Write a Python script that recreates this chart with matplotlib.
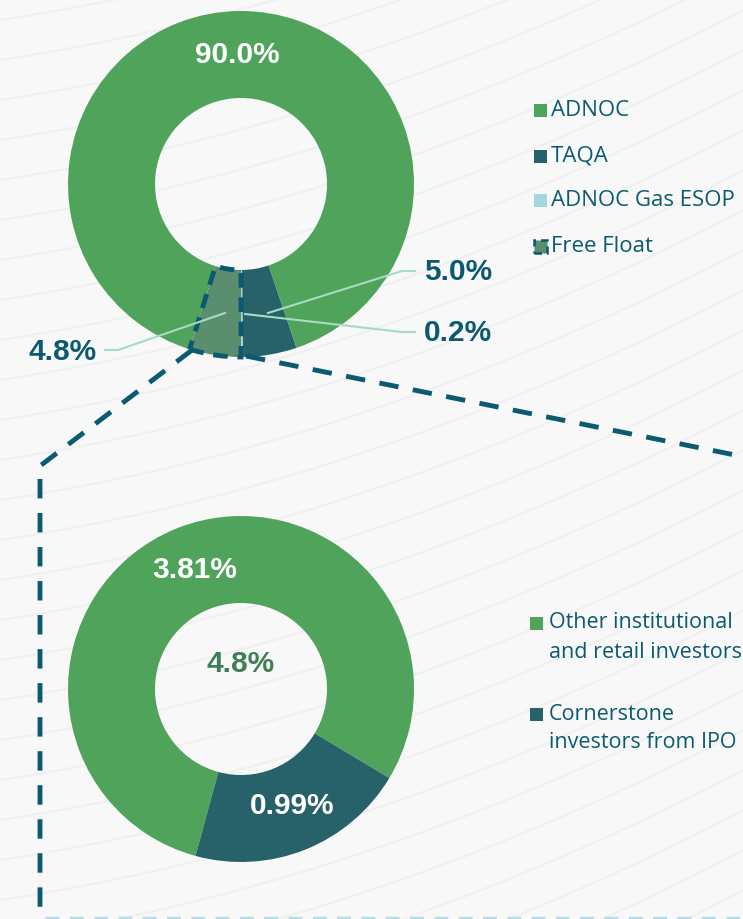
import matplotlib
matplotlib.use("Agg")
import matplotlib.pyplot as plt
import numpy as np

# ---- data ----
top_labels = ["ADNOC Gas ESOP", "TAQA", "ADNOC", "Free Float"]
top_values = [0.2, 5.0, 90.0, 4.8]
top_texts = ["0.2%", "5.0%", "90.0%", "4.8%"]

bot_labels = [["Other institutional", "and retail investors"], ["Cornerstone", "investors from IPO"]]
bot_values = [3.81, 0.99]
bot_texts = ["3.81%", "0.99%"]
bot_total = "4.8%"

legend_top = ["ADNOC", "TAQA", "ADNOC Gas ESOP", "Free Float"]

GREEN = "#50a35a"
TEAL = "#27616a"
ESOP = "#a2d8df"
FREE = "#5b8e6e"
TXT = "#0d5a70"
DASH = "#0b5a70"
LEAD = "#a8dcc2"
BG = "#f8f8f8"

W, H = 743, 919
fig = plt.figure(figsize=(W / 100, H / 100), dpi=100, facecolor=BG)
ax = fig.add_axes([0, 0, 1, 1])
ax.set_facecolor(BG)

def Y(y):
    return H - y

FONT = "Liberation Sans"
LFONT = "Open Sans"
PFS = 21.5

# faint background curves (decorative)
xs = np.linspace(0, W, 200)
for k in range(-6, 26):
    base = k * 40
    ys = base + 0.35 * (W - xs) - 0.00025 * (xs - 400) ** 2
    ax.plot(xs, [Y(v) for v in ys], color="#f0f0f0", lw=1.6, zorder=0)

R = 173
RI = 86
ctop = (241, Y(184))
cbot = (241, Y(689))

# ---- top donut ----
top_colors = [ESOP, TEAL, GREEN, FREE]
wedges, _ = ax.pie(top_values, colors=top_colors, startangle=270, counterclock=True,
                   radius=R, center=ctop, wedgeprops=dict(width=R - RI, linewidth=0),
                   frame=True)
ff = wedges[3]
ff.set_edgecolor(DASH)
ff.set_linewidth(3.5)
ff.set_linestyle((0, (3, 2)))
ff.set_zorder(3)

ax.text(237, Y(55), top_texts[2], color="white", fontsize=PFS, fontweight="bold",
        ha="center", va="center", family=FONT)

# leader lines
ax.plot([268, 402, 415], [Y(313), Y(271), Y(271)], color=LEAD, lw=1.5, zorder=4)
ax.plot([245, 402, 415], [Y(314), Y(332), Y(332)], color=LEAD, lw=1.5, zorder=4)
ax.plot([225, 118, 105], [Y(313), Y(350), Y(350)], color=LEAD, lw=1.5, zorder=4)
ax.text(424, Y(272), top_texts[1], color=TXT, fontsize=PFS, fontweight="bold",
        ha="left", va="center", family=FONT)
ax.text(424, Y(333), top_texts[0], color=TXT, fontsize=PFS, fontweight="bold",
        ha="left", va="center", family=FONT)
ax.text(97, Y(352), top_texts[3], color=TXT, fontsize=PFS, fontweight="bold",
        ha="right", va="center", family=FONT)

# top legend
leg_y = [110, 156, 200, 246]
leg_c = [GREEN, TEAL, ESOP, FREE]
for lab, yy, cc in zip(legend_top, leg_y, leg_c):
    if lab == "Free Float":
        ax.add_patch(plt.Rectangle((534, Y(yy) - 6.5), 13, 13, facecolor=cc,
                                   edgecolor=DASH, lw=1.8, linestyle=(0, (3, 2)), zorder=5))
    else:
        ax.add_patch(plt.Rectangle((534, Y(yy) - 6.5), 13, 13, facecolor=cc,
                                   edgecolor="none", zorder=5))
    ax.text(551, Y(yy), lab, color=TXT, fontsize=16, ha="left", va="center",
            family=LFONT)

# dashed connectors
dash_kw = dict(color=DASH, lw=3.5, linestyle=(0, (4, 3)), zorder=2)
ax.plot([192, 40, 40], [Y(350), Y(466), Y(919)], **dash_kw)
ax.plot([246, 740], [Y(356), Y(456)], **dash_kw)
ax.plot([45, 743], [Y(918), Y(918)], color="#b9dde6", lw=2.5, linestyle=(0, (4, 3)), zorder=2)

# ---- bottom donut ----
w2, _ = ax.pie(bot_values, colors=[GREEN, TEAL], startangle=-31, counterclock=True,
               radius=R, center=cbot, wedgeprops=dict(width=R - RI, linewidth=0),
               frame=True)

ax.text(195, Y(570), bot_texts[0], color="white", fontsize=PFS, fontweight="bold",
        ha="center", va="center", family=FONT)
ax.text(292, Y(806), bot_texts[1], color="white", fontsize=PFS, fontweight="bold",
        ha="center", va="center", family=FONT)
ax.text(241, Y(664), bot_total, color="#3f7f55", fontsize=PFS, fontweight="bold",
        ha="center", va="center", family=FONT)

# bottom legend
bl_y = [623, 714]
for lines, yy, cc in zip(bot_labels, bl_y, [GREEN, TEAL]):
    ax.add_patch(plt.Rectangle((530, Y(yy) - 6.5), 13, 13, facecolor=cc,
                               edgecolor="none", zorder=5))
    for i, ln in enumerate(lines):
        ax.text(549, Y(yy + 29 * i), ln, color=TXT, fontsize=15.5, ha="left",
                va="center", family=LFONT)

ax.set_xlim(0, W)
ax.set_ylim(0, H)
ax.set_aspect("equal")
ax.axis("off")

fig.savefig("out.png", dpi=100, facecolor=BG)
